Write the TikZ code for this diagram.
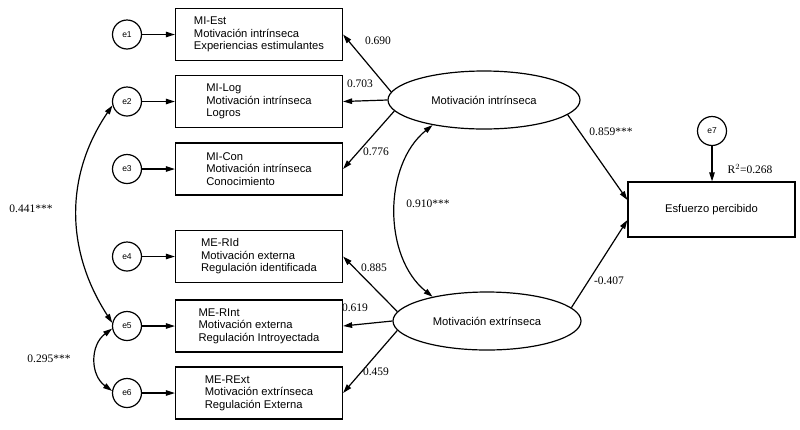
\documentclass[tikz,border=0pt]{standalone}
\usepackage{fontspec}
\setmainfont{Liberation Serif}
\newfontfamily\sansf{Liberation Sans}
\usetikzlibrary{arrows.meta,shapes.geometric,calc}
\begin{document}
\begin{tikzpicture}[x=1pt,y=-1pt,
  line width=1.2pt,
  arr/.style={-{Triangle[length=9pt,width=5.5pt]}},
  darr/.style={{Triangle[length=9pt,width=5.5pt]}-{Triangle[length=9pt,width=5.5pt]}},
  obs/.style={draw, rectangle, minimum width=167pt, minimum height=52pt, align=left,
    font=\sansf\fontsize{11.2}{12.5}\selectfont, inner sep=0pt},
  err/.style={draw, circle, minimum size=29pt, inner sep=0pt,
    font=\sansf\fontsize{8.5}{10}\selectfont},
  lat/.style={draw, ellipse, minimum height=58pt, inner sep=0pt,
    font=\sansf\fontsize{11.2}{13}\selectfont},
  num/.style={font=\fontsize{11.5}{13}\selectfont, inner sep=0pt}]
\useasboundingbox (0,0) rectangle (800,429);
\fill[white] (0,0) rectangle (800,429);

% observed boxes
\node[obs] (b1) at (259,34.5) {MI-Est\\Motivación intrínseca\\Experiencias estimulantes};
\node[obs] (b2) at (259,101.5) {MI-Log\\Motivación intrínseca\\Logros};
\node[obs] (b3) at (259,169) {MI-Con\\Motivación intrínseca\\Conocimiento};
\node[obs] (b4) at (259,256.5) {ME-RId\\Motivación externa\\Regulación identificada};
\node[obs] (b5) at (259,326) {ME-RInt\\Motivación externa\\Regulación Introyectada};
\node[obs] (b6) at (259,393) {ME-RExt\\Motivación extrínseca\\Regulación Externa};

% errors
\node[err] (e1) at (127,34.5) {e1};
\node[err] (e2) at (127,101.5) {e2};
\node[err] (e3) at (127,169) {e3};
\node[err] (e4) at (127,256.5) {e4};
\node[err] (e5) at (127,326) {e5};
\node[err] (e6) at (127,393) {e6};
\node[err] (e7) at (712,131) {e7};

% latent
\node[lat, minimum width=192pt] (mi) at (484,100) {Motivación intrínseca};
\node[lat, minimum width=188pt] (me) at (487,321) {Motivación extrínseca};

% outcome
\node[obs, minimum width=167pt, minimum height=55pt] (ep) at (711.5,209.5) {Esfuerzo percibido};

% error arrows
\foreach \i in {1,...,6} {\draw[arr] (e\i) -- (b\i.west);}
\draw[arr] (e7) -- (e7 |- ep.north);

% loadings
\draw[arr] (mi.175) -- (b1.east);
\draw[arr] (mi.180) -- (b2.east);
\draw[arr] (mi.187) -- (b3.east);
\draw[arr] (me.174) -- (b4.east);
\draw[arr] (me.180) -- (b5.east);
\draw[arr] (me.186) -- (b6.east);

% structural paths
\coordinate (ep1) at ($(ep.west)+(0,-9.5)$);
\coordinate (ep2) at ($(ep.west)+(0,10.5)$);
\draw[arr] (mi.350) -- (ep1);
\draw[arr] (me.9) -- (ep2);

% covariances
\draw[darr] (mi.206) .. controls (383,165) and (383,257) .. (me.156);
\draw[darr] (e2.195) .. controls (65,175) and (65,250) .. (e5.168);
\draw[darr] (e5.190) .. controls (90,345) and (90,375) .. (e6.172);

% labels
\node[num] (l1) at (378,41) {0.690};
\node[num] (l2) at (360,84) {0.703};
\node[num] (l3) at (376,152) {0.776};
\node[num] (l4) at (374,268) {0.885};
\node[num] (l5) at (355,308) {0.619};
\node[num] (l6) at (376,372) {0.459};
\node[num] (l7) at (611,132) {0.859***};
\node[num] (l8) at (428,204) {0.910***};
\node[num] (l9) at (609,281) {-0.407};
\node[num] (l10) at (750,169) {R$^{2}$=0.268};
\node[num] (l11) at (31,209) {0.441***};
\node[num] (l12) at (49,359) {0.295***};
\end{tikzpicture}
\end{document}
